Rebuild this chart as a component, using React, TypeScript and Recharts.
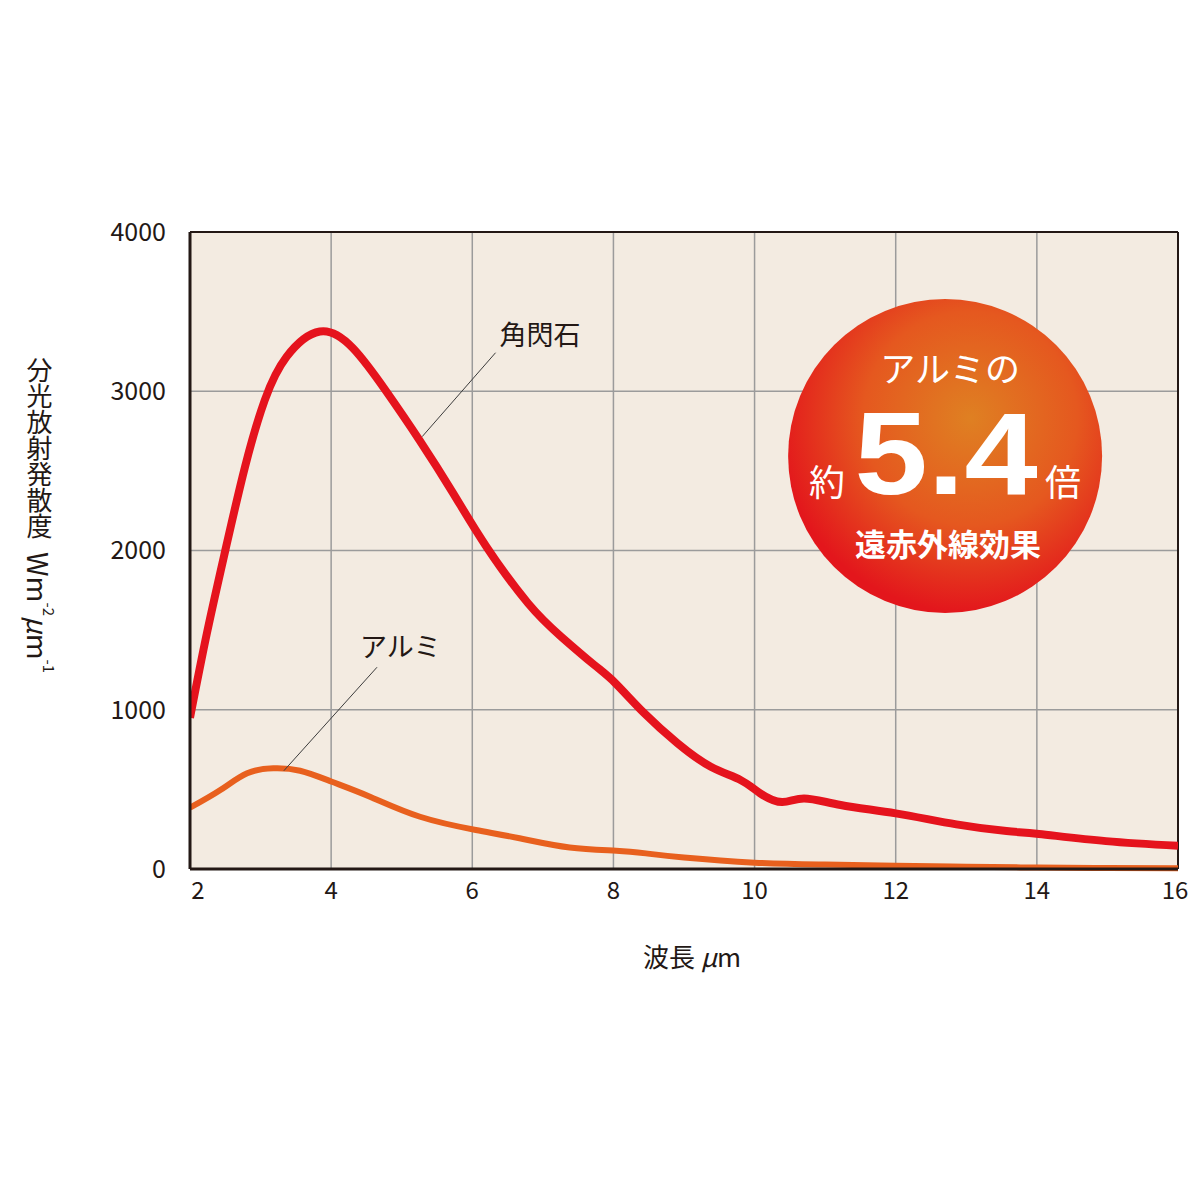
import { LineChart, Line, XAxis, YAxis, CartesianGrid, ReferenceLine, ReferenceDot } from 'recharts';

// wavelength (µm) / spectral radiant exitance (W m-2 µm-1)
const wavelengthTicks = [2, 4, 6, 8, 10, 12, 14, 16];
const radianceTicks = [0, 1000, 2000, 3000, 4000];

const hornblendeWavelength = [2.0, 2.24, 2.5, 2.78, 3.06, 3.37, 3.84, 4.31, 4.78, 5.25, 5.73, 6.2, 6.79, 7.26, 7.73, 8.03, 8.44, 8.91, 9.38, 9.8, 10.08, 10.39, 10.7, 11.22, 12.0, 12.86, 13.57, 14.03, 14.98, 16.0];
const hornblendeRadiance = [950, 1482, 2000, 2526, 2945, 3217, 3375, 3270, 3000, 2694, 2359, 2024, 1669, 1459, 1281, 1166, 977, 789, 642, 559, 475, 420, 443, 402, 349, 280, 238, 220, 175, 146];

const aluminumWavelength = [2.0, 2.43, 2.81, 3.18, 3.56, 4.01, 4.55, 5.26, 6.05, 6.67, 7.38, 8.04, 8.46, 9.0, 10.0, 11.0, 12.0, 13.0, 14.0, 15.0, 16.0];
const aluminumRadiance = [385, 496, 601, 632, 617, 548, 454, 328, 245, 193, 135, 115, 98, 72, 40, 28, 20, 14, 9, 6, 5];

const hornblendeData = hornblendeWavelength.map((x, i) => ({ x, y: hornblendeRadiance[i] }));
const aluminumData = aluminumWavelength.map((x, i) => ({ x, y: aluminumRadiance[i] }));

const INK = '#231815';
const FONT = '"Noto Sans CJK JP", "Noto Sans", sans-serif';

const XTick = ({ x, y, payload }: any) => {
  const shift = payload.value === 2 ? 8 : payload.value === 16 ? -3 : 0;
  return (
    <text x={x + shift} y={y} dy="0.71em" textAnchor="middle" fill={INK} fontSize={24} fontFamily={FONT}>
      {payload.value}
    </text>
  );
};

const Badge = ({ cx, cy }: any) => (
  <g>
    <defs>
      <radialGradient id="badgeGrad" cx="0.58" cy="0.38" r="0.62">
        <stop offset="0%" stopColor="#df8022" />
        <stop offset="55%" stopColor="#e5581f" />
        <stop offset="100%" stopColor="#e3161c" />
      </radialGradient>
    </defs>
    <circle cx={cx} cy={cy} r={157} fill="url(#badgeGrad)" />
    <text x={cx + 5} y={cy - 87} dy="0.36em" textAnchor="middle" fill="#fff" fontSize={35} fontFamily={FONT}>
      アルミの
    </text>
    <text x={cx - 118} y={cy + 27} dy="0.36em" textAnchor="middle" fill="#fff" fontSize={36} fontFamily={FONT}>
      約
    </text>
    <text
      x={cx + 1}
      y={cy + 38}
      textAnchor="middle"
      fill="#fff"
      fontSize={117}
      fontWeight="bold"
      fontFamily='"Liberation Sans", Arial, sans-serif'
      textLength={183}
      lengthAdjust="spacingAndGlyphs"
    >
      5.4
    </text>
    <text x={cx + 118} y={cy + 27} dy="0.36em" textAnchor="middle" fill="#fff" fontSize={36} fontFamily={FONT}>
      倍
    </text>
    <text x={cx + 3} y={cy + 89} dy="0.36em" textAnchor="middle" fill="#fff" fontSize={31} fontWeight="bold" fontFamily={FONT}>
      遠赤外線効果
    </text>
  </g>
);

const seriesLabel = (text: string) => ({ cx, cy }: any) => (
  <text x={cx} y={cy} dy="0.36em" textAnchor="middle" fill={INK} fontSize={27} fontFamily={FONT}>
    {text}
  </text>
);

const App = () => {
  return (
    <div style={{ position: 'absolute', left: 0, top: 0, width: 1200, height: 1200, background: '#fff' }}>
      <LineChart width={1200} height={1200} margin={{ top: 232, right: 22, left: 110, bottom: 291 }}>
        <CartesianGrid fill="#f3ebe1" stroke="#9b9b9b" strokeWidth={1.5} />
        <XAxis
          type="number"
          dataKey="x"
          domain={[2, 16]}
          ticks={wavelengthTicks}
          height={40}
          tickLine={false}
          tickSize={0}
          tickMargin={13}
          axisLine={{ stroke: INK, strokeWidth: 3 }}
          tick={<XTick />}
          allowDataOverflow
        />
        <YAxis
          type="number"
          domain={[0, 4000]}
          ticks={radianceTicks}
          width={80}
          tickLine={false}
          tickSize={0}
          tickMargin={24}
          axisLine={{ stroke: INK, strokeWidth: 3 }}
          tick={{ fill: INK, fontSize: 25, fontFamily: FONT }}
        />
        <ReferenceLine y={4000} stroke={INK} strokeWidth={2} />
        <ReferenceLine x={16} stroke={INK} strokeWidth={2} />
        <Line
          data={aluminumData}
          dataKey="y"
          type="natural"
          stroke="#e8601e"
          strokeWidth={6}
          dot={false}
          isAnimationActive={false}
        />
        <Line
          data={hornblendeData}
          dataKey="y"
          type="natural"
          stroke="#e5131d"
          strokeWidth={8}
          dot={false}
          isAnimationActive={false}
        />
        <ReferenceLine segment={[{ x: 6.33, y: 3242 }, { x: 5.29, y: 2715 }]} stroke="#3c3c3c" strokeWidth={1} />
        <ReferenceLine segment={[{ x: 4.65, y: 1267 }, { x: 3.33, y: 617 }]} stroke="#3c3c3c" strokeWidth={1} />
        <ReferenceDot x={6.96} y={3354} r={0} shape={seriesLabel('角閃石')} />
        <ReferenceDot x={4.98} y={1394} r={0} shape={seriesLabel('アルミ')} />
        <ReferenceDot x={12.7} y={2593} r={157} shape={<Badge />} />
      </LineChart>
      <div
        style={{
          position: 'absolute',
          left: 26,
          top: 357,
          writingMode: 'vertical-rl',
          fontSize: 26,
          lineHeight: '26px',
          fontFamily: FONT,
          color: INK,
          whiteSpace: 'nowrap',
        }}
      >
        分光放射発散度{'\u2002'}
        <span style={{ fontSize: 28 }}>
          Wm<sup style={{ fontSize: 15 }}>-2</sup>
          <i>μ</i>m<sup style={{ fontSize: 15 }}>-1</sup>
        </span>
      </div>
      <div
        style={{
          position: 'absolute',
          left: 592,
          top: 939,
          width: 200,
          textAlign: 'center',
          fontSize: 26,
          lineHeight: '34px',
          fontFamily: FONT,
          color: INK,
        }}
      >
        波長 <i>μ</i>m
      </div>
    </div>
  );
};

export default App;
